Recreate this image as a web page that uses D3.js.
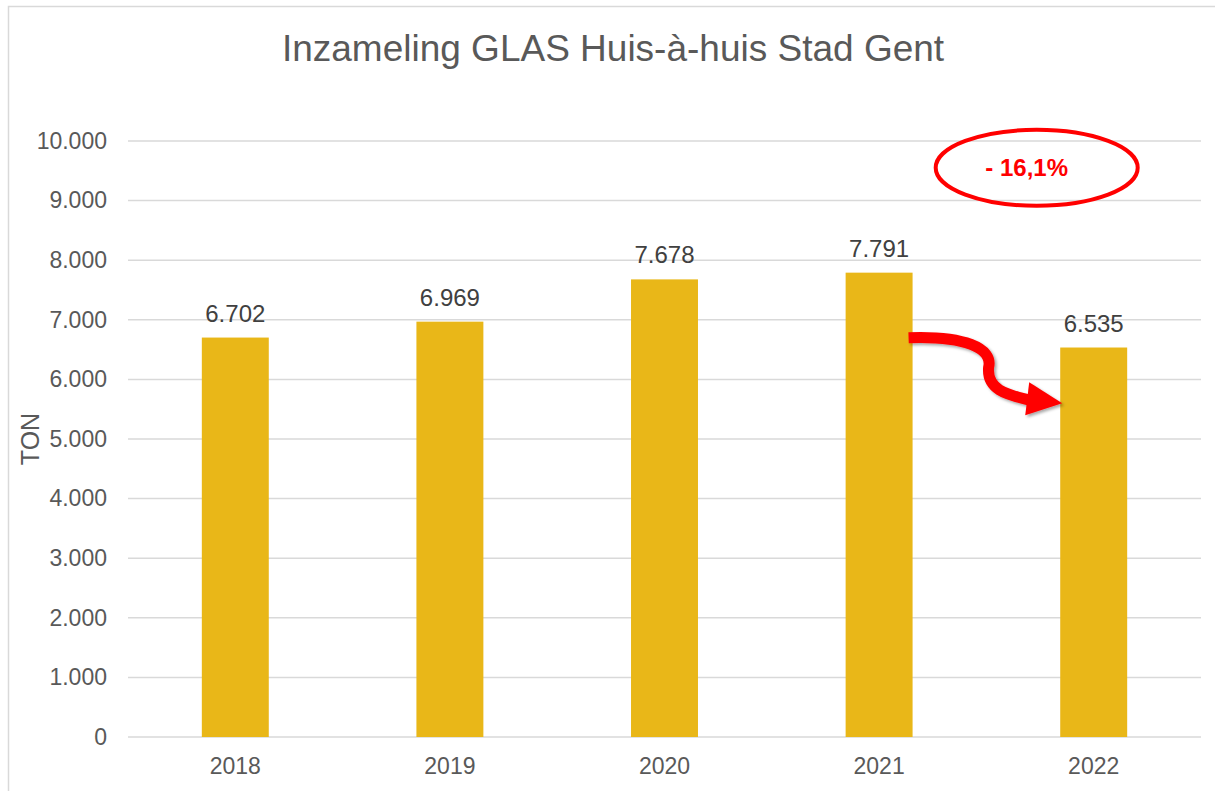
<!DOCTYPE html>
<html>
<head>
<meta charset="utf-8">
<script src="https://cdn.jsdelivr.net/npm/d3@7"></script>
<style>
  body { margin: 0; background: #fff; }
  svg text { font-family: "Liberation Sans", Arial, sans-serif; }
</style>
</head>
<body>
<svg id="chart" width="1215" height="791"></svg>
<script>
// chart data
const years = ["2018", "2019", "2020", "2021", "2022"];
const tonnes = [6702, 6969, 7678, 7791, 6535];
const yTicks = [0, 1000, 2000, 3000, 4000, 5000, 6000, 7000, 8000, 9000, 10000];
const changeLabel = "- 16,1%";

const svg = d3.select("#chart");
const margin = { left: 128, right: 14, top: 141, bottom: 54 };
const width = 1215, height = 791;

// outer frame
svg.append("rect")
  .attr("x", 8.5).attr("y", 6.5)
  .attr("width", 1215).attr("height", 800)
  .attr("fill", "none").attr("stroke", "#d9d9d9").attr("stroke-width", 1.5);

svg.append("text")
  .attr("x", 613).attr("y", 61)
  .attr("text-anchor", "middle")
  .attr("font-size", 37).attr("fill", "#595959")
  .text("Inzameling GLAS Huis-à-huis Stad Gent");

const x = d3.scaleBand()
  .domain(years)
  .range([margin.left, width - margin.right])
  .padding(0);

const y = d3.scaleLinear()
  .domain([0, 10000])
  .range([height - margin.bottom, margin.top]);

const fmt = d3.formatLocale({ decimal: ",", thousands: ".", grouping: [3] }).format(",d");

// gridlines
svg.append("g")
  .selectAll("line")
  .data(yTicks)
  .join("line")
  .attr("x1", margin.left).attr("x2", width - margin.right)
  .attr("y1", d => y(d)).attr("y2", d => y(d))
  .attr("stroke", "#d9d9d9").attr("stroke-width", 1.5);

// y axis labels
const yAxis = svg.append("g")
  .attr("transform", `translate(${margin.left},0)`)
  .call(d3.axisLeft(y).tickValues(yTicks).tickFormat(fmt).tickSize(0).tickPadding(21));
yAxis.select(".domain").remove();
yAxis.selectAll("text").attr("font-size", 23).attr("fill", "#595959")
  .attr("font-family", "Liberation Sans, Arial, sans-serif");

// x axis labels
const xAxis = svg.append("g")
  .attr("transform", `translate(0,${y(0)})`)
  .call(d3.axisBottom(x).tickSize(0).tickPadding(21));
xAxis.select(".domain").remove();
xAxis.selectAll("text").attr("font-size", 23).attr("fill", "#595959")
  .attr("font-family", "Liberation Sans, Arial, sans-serif");

// y title
svg.append("text")
  .attr("transform", `translate(39,${y(5000)}) rotate(-90)`)
  .attr("text-anchor", "middle")
  .attr("font-size", 25).attr("fill", "#595959")
  .text("TON");

const barW = x.bandwidth() * 0.312;

svg.append("g")
  .selectAll("rect")
  .data(tonnes)
  .join("rect")
  .attr("x", (d, i) => x(years[i]) + x.bandwidth() / 2 - barW / 2)
  .attr("y", d => y(d))
  .attr("width", barW)
  .attr("height", d => y(0) - y(d))
  .attr("fill", "#E9B718");

svg.append("g")
  .selectAll("text")
  .data(tonnes)
  .join("text")
  .attr("x", (d, i) => x(years[i]) + x.bandwidth() / 2)
  .attr("y", d => y(d) - 16)
  .attr("text-anchor", "middle")
  .attr("font-size", 24).attr("fill", "#404040")
  .text(d => fmt(d));

// annotation: ellipse with change
const cx = x("2022") + x.bandwidth() / 2 - 57, cy = y(9550);
svg.append("ellipse")
  .attr("cx", cx).attr("cy", cy)
  .attr("rx", 101).attr("ry", 38)
  .attr("fill", "none").attr("stroke", "#ff0000").attr("stroke-width", 4);
svg.append("text")
  .attr("x", cx - 10).attr("y", cy + 8)
  .attr("text-anchor", "middle")
  .attr("font-size", 24).attr("font-weight", "bold").attr("fill", "#ff0000")
  .text(changeLabel);

// annotation: curved arrow from 2021 to 2022
const x0 = x("2021") + x.bandwidth() / 2 + barW / 2 - 4;
const y0 = y(6700);
const tipX = x("2022") + x.bandwidth() / 2 - barW / 2 + 2;
const tipY = y(5600);
const defs = svg.append("defs");
const f = defs.append("filter").attr("id", "sh").attr("x", "-20%").attr("y", "-20%").attr("width", "150%").attr("height", "150%");
f.append("feDropShadow").attr("dx", 2).attr("dy", 2).attr("stdDeviation", 1.5).attr("flood-color", "#000").attr("flood-opacity", 0.35);

const arrow = svg.append("g").attr("filter", "url(#sh)");
arrow.append("path")
  .attr("d", `M${x0},${y0} C${x0 + 55},${y0 - 2} ${x0 + 85},${y0 + 10} ${x0 + 80},${y0 + 30}` +
             ` C${x0 + 78},${y0 + 55} ${x0 + 105},${y0 + 58} ${tipX - 32},${tipY - 3}`)
  .attr("fill", "none").attr("stroke", "#ff0000").attr("stroke-width", 11);
arrow.append("path")
  .attr("d", `M${tipX},${tipY} L${tipX - 33},${tipY - 21} L${tipX - 37},${tipY + 12} Z`)
  .attr("fill", "#ff0000");
</script>
</body>
</html>
